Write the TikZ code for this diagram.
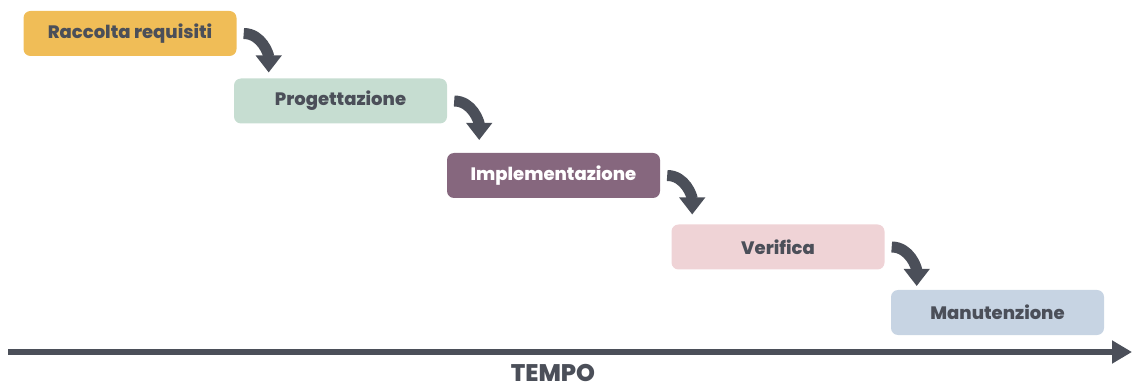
\documentclass[tikz,border=0pt]{standalone}
\usepackage{fontspec}
\setmainfont{Poppins}[BoldFont={* ExtraBold}]
\usetikzlibrary{arrows.meta}
\definecolor{ink}{HTML}{4B4F59}
\definecolor{cYellow}{HTML}{F0BD57}
\definecolor{cGreen}{HTML}{C6DDD1}
\definecolor{cPurple}{HTML}{86677E}
\definecolor{cPink}{HTML}{EFD3D6}
\definecolor{cBlue}{HTML}{C7D4E3}
\tikzset{
  phase/.style={rounded corners=7pt, minimum width=213pt, minimum height=45pt,
    inner sep=0pt, font=\bfseries\fontsize{18}{21}\selectfont, text=ink},
  flow/.style={draw=ink, line width=11pt,
    -{Triangle[length=17pt, width=25pt]}},
  timeline/.style={draw=ink, line width=6pt,
    -{Triangle[length=20pt, width=22pt]}}
}
\begin{document}
\begin{tikzpicture}[x=1pt,y=1pt]
  \useasboundingbox (0,0) rectangle (1132,-387);
  % phases of the waterfall model
  \node[phase, fill=cYellow] (b1) at (130,-33.5) {Raccolta requisiti};
  \node[phase, fill=cGreen]  (b2) at (340.5,-101) {Progettazione};
  \node[phase, fill=cPurple, text=white] (b3) at (553.5,-175.5) {Implementazione};
  \node[phase, fill=cPink]   (b4) at (778,-247) {Verifica};
  \node[phase, fill=cBlue]   (b5) at (997.5,-312.5) {Manutenzione};
  % step arrows between phases
  \foreach \a in {1,2,3,4}{
    \coordinate (s\a) at ([xshift=7pt]b\a.east);
    \coordinate (t\a) at ([xshift=32pt,yshift=-39pt]b\a.east);
    \draw[flow] (s\a) to[out=0,in=90] (t\a);
  }
  % time axis
  \coordinate (ax0) at (8,-352);
  \coordinate (ax1) at (1132,-352);
  \draw[timeline] (ax0) -- (ax1);
  \node[anchor=base, inner sep=0pt, font=\bfseries\fontsize{24}{27}\selectfont, text=ink] (tempo) at (553,-381.5) {TEMPO};
\end{tikzpicture}
\end{document}
